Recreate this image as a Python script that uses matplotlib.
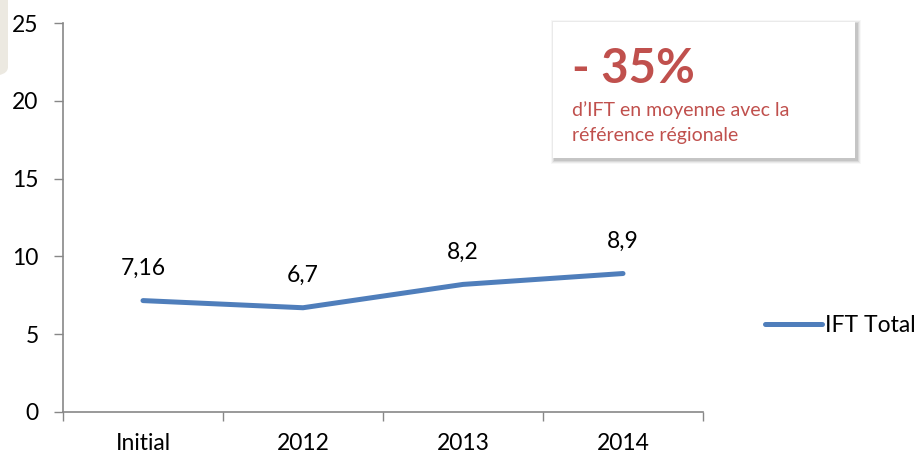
import matplotlib
matplotlib.use("Agg")
import matplotlib.pyplot as plt
from matplotlib.patches import Rectangle, FancyBboxPatch

categories = ["Initial", "2012", "2013", "2014"]
ift_total = [7.16, 6.7, 8.2, 8.9]
value_labels = ["7,16", "6,7", "8,2", "8,9"]
y_ticks = [0, 5, 10, 15, 20, 25]

BLUE = "#4F7EBB"
RED = "#C0504D"
GREY = "#878787"
plt.rcParams["font.family"] = ["Lato", "DejaVu Sans"]

W, H = 916, 455
fig = plt.figure(figsize=(W / 100, H / 100), dpi=100)
ax = fig.add_axes([63 / W, 1 - 412 / H, 640 / W, 389 / H])

x = list(range(len(categories)))
line, = ax.plot(x, ift_total, color=BLUE, linewidth=3.6, solid_capstyle="round",
                label="IFT Total", zorder=3)
for xi, v, lab in zip(x, ift_total, value_labels):
    ax.annotate(lab, (xi, v), xytext=(0, 18.5), textcoords="offset points",
                ha="center", va="baseline", fontsize=16.5, color="black")

ax.set_xlim(-0.5, len(categories) - 0.5)
ax.set_ylim(0, 25)
ax.set_yticks(y_ticks)
ax.set_yticklabels([str(t) for t in y_ticks], fontsize=16.5)
ax.set_xticks(x)
ax.set_xticklabels(categories, fontsize=16.5)
ax.set_xticks([i - 0.5 for i in range(len(categories) + 1)], minor=True)
ax.tick_params(axis="x", which="major", length=0, pad=15)
ax.tick_params(axis="x", which="minor", length=6.5, width=1, color=GREY, direction="out")
ax.tick_params(axis="y", length=6.5, width=1, color=GREY, pad=11)
for sp in ("top", "right"):
    ax.spines[sp].set_visible(False)
for sp in ("left", "bottom"):
    ax.spines[sp].set_color(GREY)
    ax.spines[sp].set_linewidth(1.2)

fig.legend(handles=[line], loc="center left", bbox_to_anchor=(756 / W, 1 - 326 / H),
           frameon=False, fontsize=16.5, handlelength=2.5, handletextpad=0.1,
           borderaxespad=0)

# beige tab at the top-left corner
fig.patches.append(FancyBboxPatch((-20 / W, 1 - 76 / H), 28 / W, 100 / H,
                                  boxstyle="round,pad=0,rounding_size=0.02",
                                  transform=fig.transFigure, facecolor="#ECE9E1",
                                  edgecolor="none", zorder=0))

# call-out box with soft shadow
bx, by, bw, bh = 553 / W, 1 - 158 / H, 302 / W, 136 / H
for i, a in enumerate([0.03, 0.05, 0.07, 0.09]):
    off = (4 - i) / W
    fig.patches.append(Rectangle((bx - off + 2 / W, by - off * W / H - 2 / H), bw + 2 * off,
                                 bh + 2 * off * W / H, transform=fig.transFigure,
                                 facecolor="black", alpha=a, edgecolor="none", zorder=1))
fig.patches.append(Rectangle((bx, by), bw, bh, transform=fig.transFigure,
                             facecolor="white", edgecolor="none", zorder=2))
fig.text(572 / W, 1 - 83 / H, "- 35%", color=RED, fontsize=34, fontweight="bold",
         ha="left", va="baseline", zorder=3)
fig.text(572 / W, 1 - 110 / H, "d\u2019IFT en moyenne avec la", color=RED, fontsize=14,
         ha="left", va="center", zorder=3)
fig.text(572 / W, 1 - 136 / H, "référence régionale", color=RED, fontsize=14,
         ha="left", va="center", zorder=3)

fig.savefig("out.png", dpi=100)
